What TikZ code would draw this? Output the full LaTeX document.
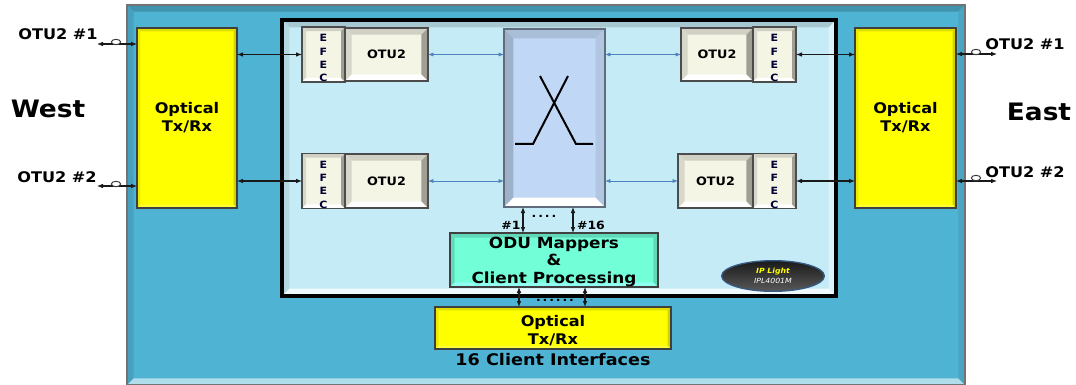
\documentclass[tikz,border=0pt]{standalone}
\usepackage{fontspec}
\setmainfont[FakeStretch=1.1]{DejaVu Sans}
\usetikzlibrary{arrows.meta,calc,positioning,shapes.geometric}
\definecolor{panelblue}{HTML}{4FB3D3}
\definecolor{paleblue}{HTML}{C4EBF6}
\definecolor{switchblue}{HTML}{C0D8F5}
\definecolor{ivory}{HTML}{F5F5E6}
\definecolor{mint}{HTML}{72FFD8}
\definecolor{linkblue}{HTML}{4F81BD}
\definecolor{brightyellow}{HTML}{FFFF00}
\tikzset{
  bevel/.style n args={5}{path picture={
    \coordinate (nw) at (path picture bounding box.north west);
    \coordinate (ne) at (path picture bounding box.north east);
    \coordinate (sw) at (path picture bounding box.south west);
    \coordinate (se) at (path picture bounding box.south east);
    \fill[#1] (nw)--(ne)--([xshift=-#5,yshift=-#5]ne)--([xshift=#5,yshift=-#5]nw)--cycle;
    \fill[#2] (nw)--(sw)--([xshift=#5,yshift=#5]sw)--([xshift=#5,yshift=-#5]nw)--cycle;
    \fill[#3] (sw)--(se)--([xshift=-#5,yshift=#5]se)--([xshift=#5,yshift=#5]sw)--cycle;
    \fill[#4] (ne)--(se)--([xshift=-#5,yshift=#5]se)--([xshift=-#5,yshift=-#5]ne)--cycle;
  }},
  yellowbox/.style={draw=black!75,line width=1pt,fill=brightyellow,align=center,font=\bfseries\fontsize{11}{13.5}\selectfont,
    bevel={brightyellow!88!black}{brightyellow!92!black}{brightyellow!80!white}{brightyellow!82!black}{2.5pt}},
  otubox/.style={draw=black!70,line width=1pt,fill=ivory,align=center,font=\bfseries\fontsize{8.7}{10}\selectfont,
    bevel={ivory!85!black}{ivory!88!black}{white}{ivory!65!black}{5pt}},
  efecbox/.style={draw=black!70,line width=1pt,fill=ivory,align=center,text=black!80!blue,font=\bfseries\fontsize{7.5}{10}\selectfont,
    bevel={ivory!85!black}{ivory!88!black}{white}{ivory!65!black}{3pt}},
  wire/.style={{Latex[length=4.5pt,width=3.5pt]}-{Latex[length=4.5pt,width=3.5pt]},draw=black!90,line width=0.8pt},
  bluewire/.style={{Latex[length=4pt,width=3pt]}-{Latex[length=4pt,width=3pt]},draw=linkblue,line width=0.5pt},
  ring/.style={ellipse,draw=black!80,line width=0.7pt,inner sep=0pt,minimum width=7pt,minimum height=4pt},
  otulabel/.style={font=\bfseries\fontsize{11}{12}\selectfont},
  sidelabel/.style={font=\bfseries\fontsize{18}{20}\selectfont},
  dotlabel/.style={font=\bfseries\fontsize{8.5}{10}\selectfont}
}
\newcommand{\boxat}[6]{% name, style, x1, y1, x2, y2 in pixels
  \node[#2,minimum width={(#5-#3)*0.75pt},minimum height={(#6-#4)*0.75pt},inner sep=0pt,outer sep=0pt] (#1) at ({(#3+#5)/2},{(#4+#6)/2})}
\newcommand{\topgap}{\rule{0pt}{11pt}}
\begin{document}
\begin{tikzpicture}[x=0.75pt,y=-0.75pt]
    \useasboundingbox (0,0) rectangle (1076,385);
    \fill[white] (0,0) rectangle (1076,385);
    % panels
    \boxat{shelf}{draw=black!55,line width=1pt,fill=panelblue,bevel={panelblue!82!black}{panelblue!90!black}{panelblue!45!white}{panelblue!92!black}{5pt}}{127}{5}{965}{385} {};
    \boxat{card}{draw=black,line width=3pt,fill=paleblue,bevel={paleblue!85!black}{paleblue!92!black}{paleblue!25!white}{paleblue!60!white}{5.5pt}}{282}{20}{836}{296} {};
    % optical blocks
    \boxat{txwest}{yellowbox}{137}{28}{237}{208} {Optical\\Tx/Rx};
    \boxat{txeast}{yellowbox}{855}{28}{956}{208} {Optical\\Tx/Rx};
    \boxat{txclient}{yellowbox}{435}{307}{671}{349} {\rule{0pt}{12.5pt}Optical\\Tx/Rx};
    \boxat{mapper}{draw=black!75,line width=1pt,fill=mint,align=center,font=\bfseries\fontsize{11.5}{13}\selectfont,bevel={mint!85!black}{mint!85!black}{mint!60!cyan!60!white}{mint!85!black}{3.5pt}}{450}{233}{658}{287} {\rule{0pt}{11pt}ODU Mappers\\\&\\Client Processing};
    % framers west
    \boxat{efecwa}{efecbox}{302}{28}{345}{81} {\topgap E\\F\\E\\C};
    \boxat{otuwa}{otubox}{345}{28}{428}{81} {OTU2};
    \boxat{efecwb}{efecbox}{302}{154}{345}{208} {\topgap E\\F\\E\\C};
    \boxat{otuwb}{otubox}{345}{154}{428}{208} {OTU2};
    % framers east
    \boxat{otuea}{otubox}{681}{28}{753}{81} {OTU2};
    \boxat{efecea}{efecbox}{753}{28}{796}{81} {\topgap E\\F\\E\\C};
    \boxat{otueb}{otubox}{678}{154}{753}{208} {OTU2};
    \boxat{efeceb}{efecbox}{753}{154}{796}{208} {\topgap E\\F\\E\\C};
    % switch
    \boxat{switch}{draw=black!50!switchblue,line width=1pt,fill=switchblue,bevel={switchblue!88!black}{switchblue!82!black}{white}{switchblue!92!black}{7pt}}{504}{29}{605}{207} {};
    \draw[line width=1.5pt] (515,144)--(533,144)--(568,76);
    \draw[line width=1.5pt] (593,144)--(576,144)--(540,76);
    % logo
    \node[ellipse,draw=linkblue!70!black,line width=1pt,top color=black!90,bottom color=black!65,minimum width=77pt,minimum height=23pt,inner sep=0pt,align=center,font=\itshape\fontsize{5.3}{8}\selectfont] (logo) at (773,276) {\textcolor{brightyellow}{\bfseries IP Light}\\\textcolor{white}{IPL4001M}};
    % links
    \draw[wire] (txwest.east |- efecwa.west) -- (efecwa.west);
    \draw[wire] (txwest.east |- efecwb.west) -- (efecwb.west);
    \draw[wire] (efecea.east) -- (txeast.west |- efecea.east);
    \draw[wire] (efeceb.east) -- (txeast.west |- efeceb.east);
    \draw[bluewire] (otuwa.east) -- (switch.west |- otuwa.east);
    \draw[bluewire] (otuwb.east) -- (switch.west |- otuwb.east);
    \draw[bluewire] (switch.east |- otuea.west) -- (otuea.west);
    \draw[bluewire] (switch.east |- otueb.west) -- (otueb.west);
    \coordinate (porta) at (523,220);
    \coordinate (portb) at (573,220);
    \coordinate (portc) at (519,297);
    \coordinate (portd) at (585,297);
    \draw[wire] (porta |- switch.south) -- (porta |- mapper.north);
    \draw[wire] (portb |- switch.south) -- (portb |- mapper.north);
    \draw[wire] (portc |- mapper.south) -- (portc |- txclient.north);
    \draw[wire] (portd |- mapper.south) -- (portd |- txclient.north);
    % line side
    \coordinate (inwa) at (97,44);
    \coordinate (inwb) at (97,186);
    \coordinate (inea) at (997,54);
    \coordinate (ineb) at (997,181);
    \draw[wire] (inwa) -- (txwest.west |- inwa);
    \draw[wire] (inwb) -- (txwest.west |- inwb);
    \draw[wire] (txeast.east |- inea) -- (inea);
    \draw[wire] (txeast.east |- ineb) -- (ineb);
    \node[ring,fill=white] (ringwa) at (116,42) {};
    \node[ring,fill=white] (ringwb) at (116,184) {};
    \node[ring,fill=white] (ringea) at (976,52) {};
    \node[ring,fill=white] (ringeb) at (976,178) {};
    % labels
    \node[otulabel] (otuwesta) at (58,34) {OTU2 \#1};
    \node[otulabel] (otuwestb) at (57,177) {OTU2 \#2};
    \node[otulabel] (otueasta) at (1025,44) {OTU2 \#1};
    \node[otulabel] (otueastb) at (1025,172) {OTU2 \#2};
    \node[sidelabel] (west) at (48,109) {West};
    \node[sidelabel] (east) at (1039,112) {East};
    \node[dotlabel] (numa) at (511,225) {\#1};
    \node[dotlabel] (numb) at (591,225) {\#16};
    \node[dotlabel] (dotsa) at (544,216) {.\,.\,.\,.};
    \node[dotlabel] (dotsb) at (555,300) {.\,.\,.\,.\,.\,.};
    \node[font=\bfseries\fontsize{12}{14}\selectfont] (clients) at (553,360) {16 Client Interfaces};
\end{tikzpicture}
\end{document}
